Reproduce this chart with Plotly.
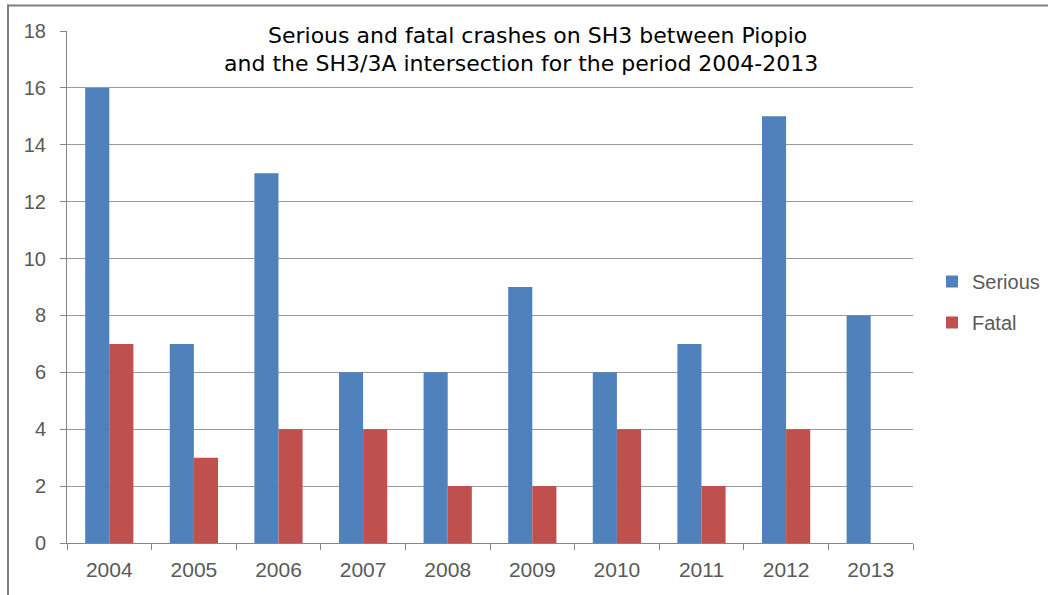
import plotly.graph_objects as go

years = ["2004", "2005", "2006", "2007", "2008", "2009", "2010", "2011", "2012", "2013"]
serious = [16, 7, 13, 6, 6, 9, 6, 7, 15, 8]
fatal = [7, 3, 4, 4, 2, 2, 4, 2, 4, 0]
title_line1 = "Serious and fatal crashes on SH3 between Piopio"
title_line2 = "and the SH3/3A intersection for the period 2004-2013"

W, H = 1048, 595
L, R, T, B = 67, 913, 31, 543

def px_x(p):
    return (p - L) / (R - L)

def px_y(p):
    return (B - p) / (B - T)

fig = go.Figure()
fig.add_trace(go.Bar(x=years, y=serious, name="Serious", marker_color="#4F81BD",
                     marker_line_width=0, legendgroup="a"))
fig.add_trace(go.Bar(x=years, y=fatal, name="Fatal", marker_color="#C0504D",
                     marker_line_width=0, legendgroup="b"))

tick_font = dict(family="Liberation Sans, Arial, sans-serif", size=20, color="#595959")
xtick_font = dict(family="Liberation Sans, Arial, sans-serif", size=21, color="#595959")
title_font = dict(family="DejaVu Sans, sans-serif", size=22, color="black")

fig.update_layout(
    width=W, height=H,
    margin=dict(l=L, r=W - R, t=T, b=H - B, autoexpand=False),
    paper_bgcolor="white", plot_bgcolor="white",
    barmode="group", bargap=0.43, bargroupgap=0,
    showlegend=True,
    legend=dict(x=px_x(932), y=px_y(302), xanchor="left", yanchor="middle",
                font=dict(family="Liberation Sans, Arial, sans-serif", size=20, color="#595959"),
                tracegroupgap=12, bgcolor="rgba(0,0,0,0)"),
    xaxis=dict(type="category", showgrid=False, showline=True, linecolor="#868686", linewidth=1,
               ticks="outside", tickson="boundaries", ticklen=6, tickcolor="#868686",
               tickfont=xtick_font, ticklabelstandoff=8),
    yaxis=dict(range=[0, 18], dtick=2, showgrid=True, gridcolor="#9a9a9a", gridwidth=1,
               showline=True, linecolor="#868686", linewidth=1,
               ticks="outside", ticklen=6, tickcolor="#868686",
               tickfont=tick_font, ticklabelstandoff=10, zeroline=False),
    shapes=[
        dict(type="rect", xref="paper", yref="paper",
             x0=px_x(148), x1=px_x(881), y0=px_y(80), y1=px_y(18),
             fillcolor="white", line=dict(width=0), layer="above"),
        dict(type="line", xref="paper", yref="paper",
             x0=px_x(7), x1=px_x(1060), y0=px_y(5.5), y1=px_y(5.5),
             line=dict(color="#7f7f7f", width=2), layer="above"),
        dict(type="line", xref="paper", yref="paper",
             x0=px_x(8), x1=px_x(8), y0=px_y(600), y1=px_y(4.5),
             line=dict(color="#7f7f7f", width=2), layer="above"),
    ],
    annotations=[
        dict(text=title_line1, xref="paper", yref="paper",
             x=px_x(537), y=px_y(35), xanchor="center", yanchor="middle",
             showarrow=False, font=title_font),
        dict(text=title_line2, xref="paper", yref="paper",
             x=px_x(521), y=px_y(63), xanchor="center", yanchor="middle",
             showarrow=False, font=title_font),
    ],
)

fig.write_html("out.html", config={"displayModeBar": False},
               post_script="document.body.style.margin='0';")
